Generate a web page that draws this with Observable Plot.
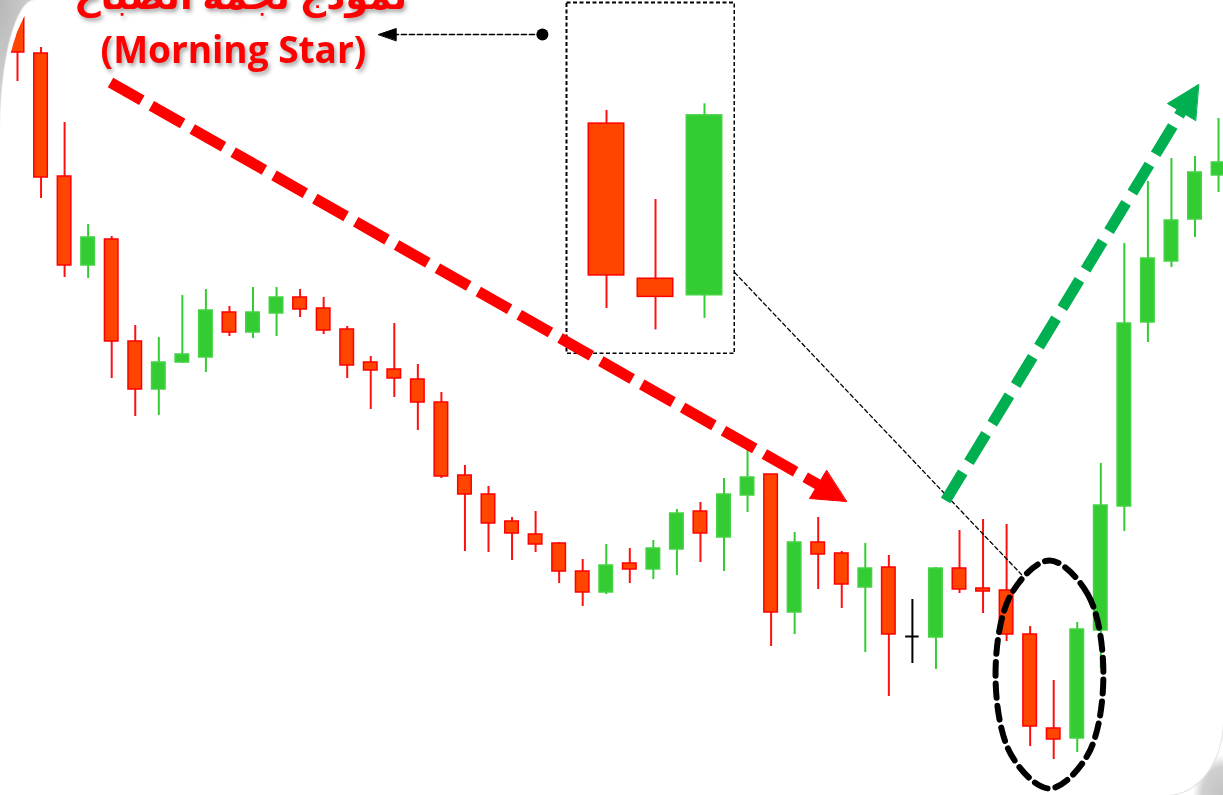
<!DOCTYPE html>
<html><head><meta charset="utf-8">
<script src="https://cdn.jsdelivr.net/npm/d3@7"></script>
<script src="https://cdn.jsdelivr.net/npm/@observablehq/plot@0.6"></script>
<style>
html,body{margin:0;padding:0;background:#fff;overflow:hidden;}
#stage{position:relative;width:1223px;height:795px;overflow:hidden;
  background:
    radial-gradient(ellipse 60px 170px at 0 0, #b8b8b8 0%, #cfcfcf 55%, rgba(230,230,230,0) 100%),
    radial-gradient(ellipse 30px 40px at 100% 100%, #c2c2c2 0%, #d0d0d0 70%, rgba(255,255,255,0) 100%),
    #fff;}
#white{position:absolute;left:0;top:0;width:1223px;height:795px;background:#fff;
  border-top-left-radius:35px 135px;border-bottom-right-radius:56px 75px;box-shadow:0 0 0 1px #e2e2e2;}
#clip{position:absolute;left:0;top:0;width:1223px;height:795px;overflow:hidden;
  border-top-left-radius:45px 150px;border-bottom-right-radius:56px 75px;}
#inset{position:absolute;left:565px;top:1px;width:170px;height:353px;}
#main{position:absolute;left:0;top:0;width:1223px;height:795px;}
svg{background:transparent !important;}
#main svg g[aria-label="text"]{filter:drop-shadow(2px 3px 2px rgba(0,0,0,0.35));}
</style>
</head><body>
<div id="stage"><div id="white"></div><div id="clip"><div id="inset"></div><div id="main"></div></div></div>
<script>
// Candle prices (one entry per session)
const open  = [78.7,74.2,61.9,53.0,55.6,45.4,40.6,43.3,43.8,48.3,46.3,48.2,49.8,48.7,46.6,43.3,42.6,41.6,39.3,32.0,30.1,27.4,26.1,25.2,22.4,20.3,23.2,22.6,24.6,28.4,25.8,30.0,32.1,18.3,25.3,24.2,20.8,22.8,15.9,15.8,22.7,20.7,20.5,16.1,6.7,5.7,16.5,28.9,47.3,53.4,57.6,62.0];
const high  = [79.5,74.8,67.3,57.1,55.9,47.0,45.8,50.0,50.6,48.9,50.8,50.8,50.6,49.8,46.9,43.9,47.2,43.1,40.3,33.0,30.9,27.8,28.4,25.3,23.6,25.1,24.7,25.5,28.6,29.3,31.7,34.5,32.1,26.3,27.8,24.4,25.2,24.0,19.6,22.8,26.5,27.6,27.1,16.9,11.5,17.3,33.2,55.2,61.4,63.7,63.9,67.7];
const low   = [71.4,59.7,51.8,51.7,41.7,37.9,38.0,43.2,42.3,45.9,45.7,45.9,47.8,46.1,41.7,38.6,39.8,36.5,31.7,24.4,24.3,23.5,24.3,21.2,18.9,20.1,21.2,21.6,22.0,23.3,22.4,28.3,14.9,16.1,20.6,18.7,14.3,9.9,13.2,12.6,20.2,18.2,15.4,4.9,3.6,4.3,12.7,26.4,45.3,52.8,55.8,60.3];
const close = [74.3,61.8,53.0,55.8,45.4,40.6,43.3,44.1,48.5,46.3,48.3,49.8,48.6,46.5,43.0,42.5,41.7,39.3,31.9,30.1,27.2,26.2,25.1,22.4,20.3,23.0,22.6,24.7,28.2,26.2,30.1,31.8,18.3,25.3,24.1,21.1,22.7,16.1,15.9,22.7,20.6,20.4,16.1,6.9,5.6,16.6,29.0,47.2,53.7,57.5,62.3,63.3];
// Morning Star pattern (sessions shown magnified in the inset)
const patternIdx = [43,44,45];
// Annotation texts
const titleAr = "نموذج نجمة الصباح";
const titleEn = "(Morning Star)";

const candles = open.map((o,i)=>({i, open:o, high:high[i], low:low[i], close:close[i]}));
const dir = d => d.close > d.open ? "up" : d.close < d.open ? "down" : "flat";
const wickC = {up:"#33CC33", down:"#FF1010", flat:"#000000"};
const fillC = {up:"#33CC33", down:"#FF4500", flat:"#000000"};
const strokeC = {up:"#45D245", down:"#FF0000", flat:"#000000"};
const bodies = candles.filter(d=>dir(d)!=="flat");
const dojis = candles.filter(d=>dir(d)==="flat");
const HW = 0.287;

// annotation geometry in data units (session index, price)
const redArrow = [{x:3.95,y:71.3},{x:33.99,y:31.1}];
const redHead = [{x:35.20,y:29.4},{x:33.63,y:29.7},{x:34.35,y:32.5}];
const greenArrow = [{x:39.41,y:29.5},{x:49.43,y:68.4}];
const greenHead = [{x:50.15,y:71.1},{x:48.83,y:69.2},{x:50.02,y:67.5}];
const pointer = [{x:22.29,y:76.1},{x:16.05,y:76.1}];
const pointerHead = [{x:15.33,y:76.1},{x:16.08,y:76.7},{x:16.08,y:75.5}];
const connector = [{x:30.45,y:52.3},{x:42.67,y:22.0}];
const ellipse = [{x:43.82,y:23.5},{x:45.44,y:20.16},{x:46.11,y:12.1},{x:45.44,y:4.04},{x:43.82,y:0.7},{x:42.20,y:4.04},{x:41.53,y:12.1},{x:42.20,y:20.16}];
const labels = [{x:9.47,y:79.88,t:titleAr},{x:9.17,y:74.4,t:titleEn}];

const head = (data, color) => Plot.line(data,{x:"x", y:"y", curve:"linear-closed", fill:color, stroke:color, strokeWidth:1});

const main = Plot.plot({
  width:1223, height:795, margin:0,
  x:{domain:[-17/23.55,(1223-17)/23.55], axis:null},
  y:{domain:[0,79.5], axis:null},
  color:{type:"identity"},
  style:{background:"transparent", overflow:"visible"},
  marks:[
    Plot.ruleX(candles,{x:"i", y1:"low", y2:"high", stroke:d=>wickC[dir(d)], strokeWidth:2}),
    Plot.rect(bodies,{x1:d=>d.i-HW, x2:d=>d.i+HW, y1:d=>Math.min(d.open,d.close), y2:d=>Math.max(d.open,d.close), fill:d=>fillC[dir(d)], stroke:d=>strokeC[dir(d)], strokeWidth:1.5}),
    Plot.ruleY(dojis,{y:"open", x1:d=>d.i-HW, x2:d=>d.i+HW, stroke:"#000", strokeWidth:2}),
    Plot.line(connector,{x:"x", y:"y", stroke:"#000", strokeWidth:1.3, strokeDasharray:"4,3"}),
    Plot.line(ellipse,{x:"x", y:"y", curve:"catmull-rom-closed", stroke:"#000", strokeWidth:6, strokeDasharray:"14,8", fill:"none"}),
    Plot.line(redArrow,{x:"x", y:"y", stroke:"#FF0000", strokeWidth:11, strokeDasharray:"36,11", strokeLinecap:"butt"}),
    head(redHead, "#FF0000"),
    Plot.line(greenArrow,{x:"x", y:"y", stroke:"#00B050", strokeWidth:11, strokeDasharray:"33,12", strokeLinecap:"butt"}),
    head(greenHead, "#00B050"),
    Plot.line(pointer,{x:"x", y:"y", stroke:"#000", strokeWidth:1.7, strokeDasharray:"5,3"}),
    Plot.dot(pointer.slice(0,1),{x:"x", y:"y", r:6, fill:"#000", stroke:"none"}),
    head(pointerHead, "#000"),
    Plot.text(labels,{x:"x", y:"y", text:"t", fill:"#FF0000", fontSize:37, fontWeight:"bold", fontFamily:"'Open Sans','DejaVu Sans',sans-serif"})
  ]
});
document.getElementById("main").appendChild(main);

const star = candles.filter(d=>patternIdx.includes(d.i));
const IHW = 0.362;
const x0 = 43 - 41/49;
const inset = Plot.plot({
  width:170, height:353, margin:0,
  x:{domain:[x0, x0+170/49], axis:null},
  y:{domain:[2.11,23.5], axis:null},
  color:{type:"identity"},
  style:{background:"transparent"},
  marks:[
    Plot.frame({stroke:"#000", strokeWidth:2, strokeDasharray:"4,2.5", inset:1}),
    Plot.ruleX(star,{x:"i", y1:"low", y2:"high", stroke:d=>wickC[dir(d)], strokeWidth:2}),
    Plot.rect(star,{x1:d=>d.i-IHW, x2:d=>d.i+IHW, y1:d=>Math.min(d.open,d.close), y2:d=>Math.max(d.open,d.close), fill:d=>fillC[dir(d)], stroke:d=>strokeC[dir(d)], strokeWidth:1.5})
  ]
});
document.getElementById("inset").appendChild(inset);
</script>
</body></html>
